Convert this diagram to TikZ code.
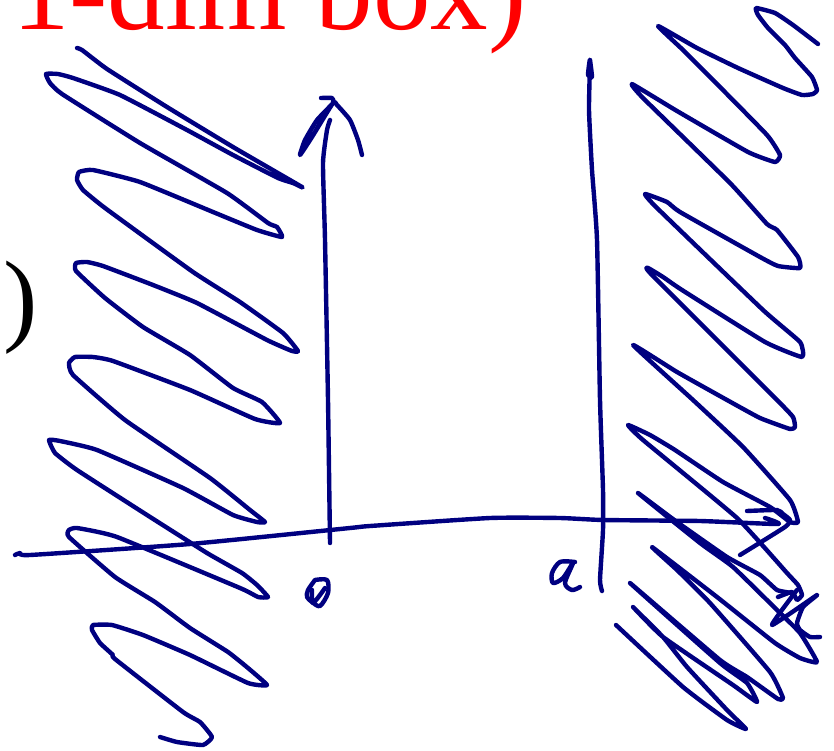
\documentclass[tikz,border=0pt]{standalone}
\usepackage{fontspec}
\setmainfont{Liberation Serif}
\usepackage{xcolor}
\definecolor{inkblue}{HTML}{000080}
\definecolor{titlered}{HTML}{FF0000}
\begin{document}
\begin{tikzpicture}[
  x=1pt,y=-1pt,
  ink/.style={draw=inkblue,line width=4.4pt,line cap=round,line join=round},
  bigtext/.style={anchor=base west,inner sep=0pt,font=\fontsize{115}{115}\selectfont}]
  \useasboundingbox (0,0) rectangle (834,751);
  \clip (0,0) rectangle (834,751);
  % printed text
  \node[bigtext,text=titlered] (title) at (12,29.5) {1-dim box)};
  \node[bigtext,font=\fontsize{103}{103}\selectfont] (paren) at (3,332) {)};
  % left wall
  \draw[ink] plot[smooth,tension=0.25] coordinates {(77,48) (82,50) (107,69) (167,107) (233,147) (302,187) (293,183) (278,178) (233,155) (187,130) (120,95) (73,78) (58,74) (46,74) (50,83) (62,94) (140,143) (227,193) (268,223) (277,227) (282,237) (257,230) (213,212) (140,182) (93,170) (79,172) (77,180) (83,190) (105,208) (193,272) (240,302) (283,333) (298,351) (292,351) (267,340) (197,303) (153,285) (103,266) (87,262) (76,263) (76,271) (105,298) (143,327) (190,355) (233,388) (262,402) (280,423) (255,419) (190,390) (113,361) (93,357) (75,357) (69,363) (73,375) (125,420) (210,478) (250,510) (265,522) (257,522) (233,515) (183,488) (97,450) (60,441) (49,440) (55,453) (77,470) (147,515) (207,553) (242,573) (257,585) (268,597) (258,597) (240,588) (117,537) (77,528) (69,530) (69,537) (115,577) (155,602) (190,628) (228,652) (248,668) (267,685) (248,683) (190,655) (143,635) (112,625) (93,625) (92,630) (100,643) (113,655) (115,659) (183,712) (200,722) (212,737) (203,745) (177,742) (160,737)};
  % right wall
  \draw[ink] plot[smooth,tension=0.25] coordinates {(818,44) (793,25) (775,13) (756,8) (758,15) (768,28) (785,45) (795,58) (812,77) (817,90) (813,94) (802,95) (783,88) (738,68) (697,48) (658,26) (683,50) (713,80) (767,135) (780,155) (775,162) (748,152) (677,111) (632,84) (643,98) (730,183) (767,224) (777,230) (798,257) (800,268) (778,266) (760,257) (680,212) (667,202) (645,194) (657,208) (763,310) (800,342) (802,357) (765,342) (682,290) (663,277) (648,268) (652,275) (777,400) (793,417) (795,427) (790,429) (760,418) (727,400) (677,372) (633,345) (693,400) (743,447) (790,500) (798,522) (790,522) (770,507) (723,482) (675,450) (650,435) (628,425) (643,440) (737,518) (787,573) (798,585) (802,595) (797,600) (792,592) (778,597)};
  \draw[ink] plot[smooth,tension=0.25] coordinates {(792,593) (777,590) (760,575) (727,557) (677,522) (638,493) (700,543) (733,567) (777,610) (800,633) (817,662) (800,658) (775,643) (717,597) (652,547) (677,570) (710,603) (770,672) (783,698) (778,699) (747,677) (720,660) (630,583) (720,663) (747,683) (757,702) (733,685) (663,637) (633,607) (663,637) (687,667) (727,710) (746,729) (727,720) (683,687) (616,625)};
  % axes
  \draw[ink] plot[smooth,tension=0.3] coordinates {(15,555) (20,553) (30,555) (190,544) (350,528) (370,526) (490,518) (560,518) (603,520) (700,521) (778,524) (765,518)};
  \draw[ink] plot[smooth,tension=0.3] coordinates {(747,511) (777,510) (783,514) (790,520) (785,527) (740,555)};
  \draw[ink] plot[smooth,tension=0.3] coordinates {(330,120) (327,130) (323,163) (325,240) (328,400) (330,543)};
  \draw[ink] plot[smooth,tension=0.3] coordinates {(321,98) (332,98) (333,103) (317,120) (305,140) (300,155) (312,137) (333,103) (337,105) (350,120) (358,140) (362,155)};
  \draw[ink] plot[smooth,tension=0.3] coordinates {(590,60) (592,77) (588,75) (590,60) (589,110) (592,170) (597,240) (600,400) (603,490) (603,530) (600,580) (602,591)};
  % handwritten labels
  \draw[ink] plot[smooth,tension=0.5] coordinates {(575,562) (560,562) (552,573) (553,583) (563,578) (573,563) (565,583) (572,590) (580,587)};
  \draw[ink] plot[smooth,tension=0.5] coordinates {(315,580) (327,580) (328,593) (320,606) (312,602) (307,597) (308,590) (315,580)};
  \draw[ink] plot[smooth,tension=0.5] coordinates {(312,590) (313,603) (325,588)};
  \draw[ink] plot[smooth,tension=0.3] coordinates {(797,590) (772,625) (817,595) (803,607) (797,623) (800,630) (810,637) (820,637)};
\end{tikzpicture}
\end{document}
